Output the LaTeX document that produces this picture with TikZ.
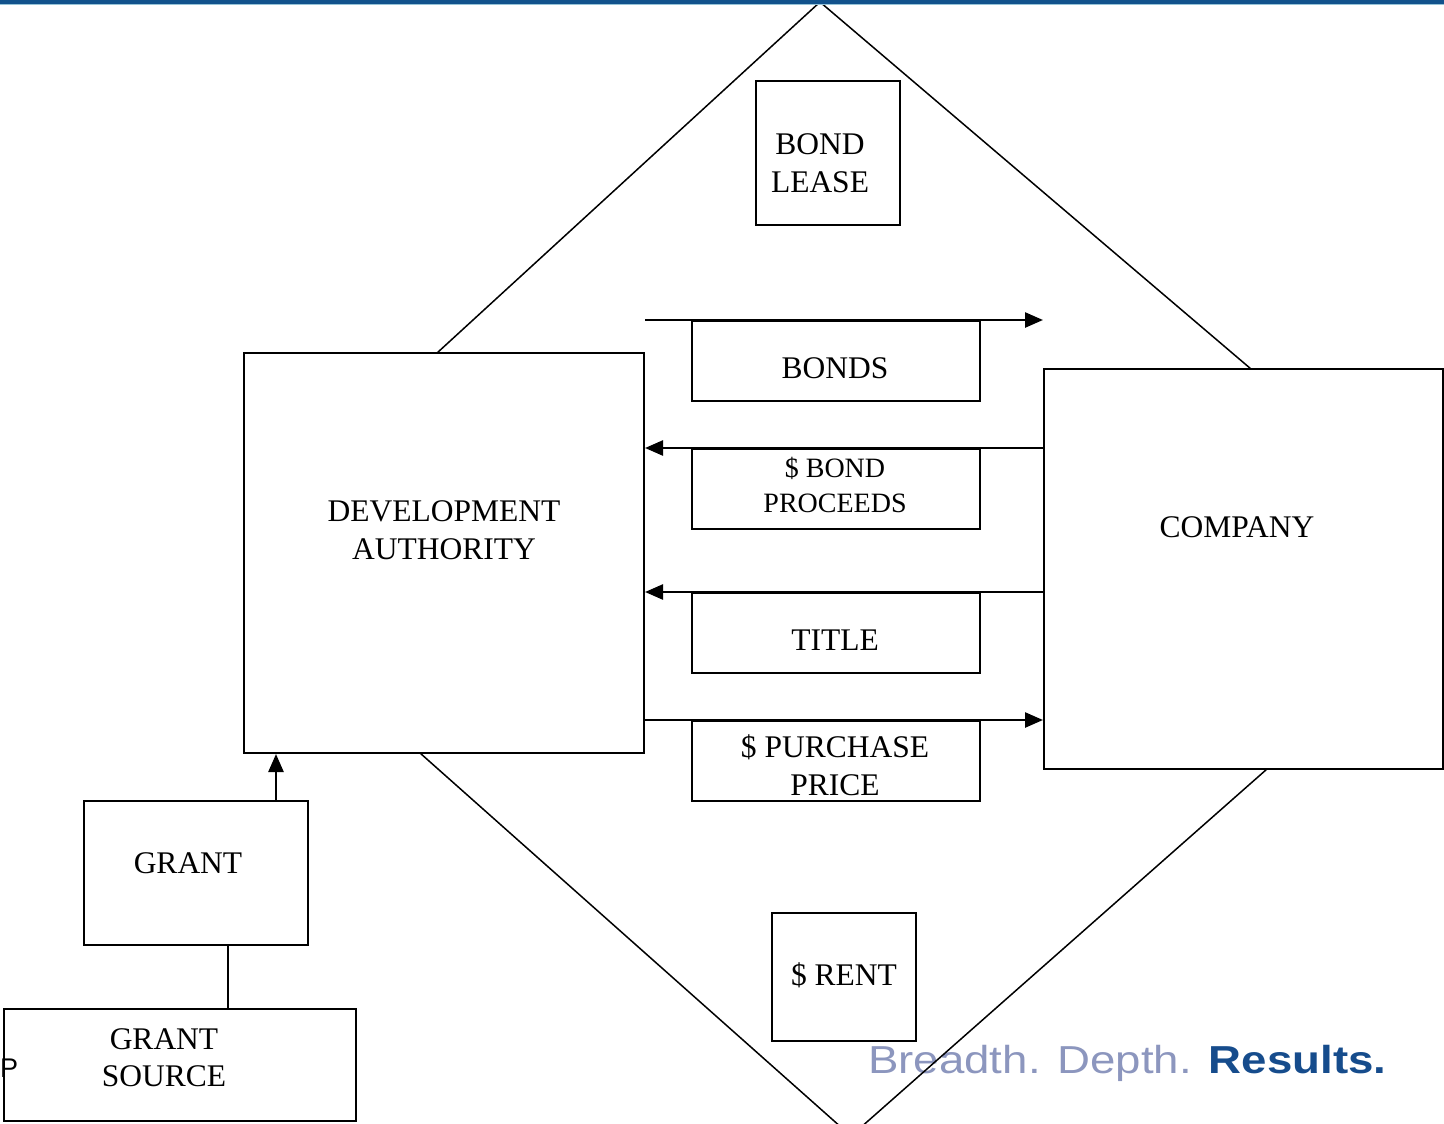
\documentclass[tikz,border=0pt]{standalone}
\usepackage{fontspec}
\setmainfont{Liberation Serif}
\newfontfamily\logofont{Liberation Sans}
\usetikzlibrary{arrows.meta}
\definecolor{barblue}{RGB}{18,82,140}
\definecolor{barlight}{RGB}{150,195,215}
\definecolor{logogrey}{RGB}{140,150,190}
\definecolor{logoblue}{RGB}{22,76,140}
\begin{document}
\begin{tikzpicture}[x=1pt,y=-1pt,
  box/.style={draw, line width=2pt, fill=white, inner sep=0pt},
  lbl/.style={align=center, inner sep=0pt, font=\fontsize{31.5}{38}\selectfont},
  lblsm/.style={align=center, inner sep=0pt, font=\fontsize{28}{35}\selectfont},
  flow/.style={line width=2.5pt, -{Triangle[length=18pt,width=15pt]}},
  diam/.style={line width=1.5pt},
  link/.style={line width=2pt}]
\useasboundingbox (0,0) rectangle (1444,1124);
\clip (0,0) rectangle (1444,1124);
% logo (background)
\node[anchor=base west, inner sep=0pt, xscale=1.17, font=\logofont\fontsize{39}{39}\selectfont] (logo) at (868,1073)
  {\textcolor{logogrey}{Breadth. Depth.} \textcolor{logoblue}{\bfseries Results.}};
% diamond
\draw[diam] (437,353) -- (820,2) -- (1251,369);
\draw[diam] (420,753) -- (851,1136) -- (1267,769);
% boxes
\node[box, minimum width=144pt, minimum height=144pt] (bl) at (828,153) {};
\node[box, minimum width=400pt, minimum height=400pt] (da) at (444,553) {};
\node[box, minimum width=399pt, minimum height=400pt] (co) at (1243.5,569) {};
\node[box, minimum width=288pt, minimum height=80pt] (bonds) at (836,361) {};
\node[box, minimum width=288pt, minimum height=80pt] (proc) at (836,489) {};
\node[box, minimum width=288pt, minimum height=80pt] (title) at (836,633) {};
\node[box, minimum width=288pt, minimum height=80pt] (pur) at (836,761) {};
\node[box, minimum width=224pt, minimum height=144pt] (grant) at (196,873) {};
\node[box, minimum width=352pt, minimum height=112pt] (gs) at (180,1065) {};
\node[box, minimum width=144pt, minimum height=128pt] (rent) at (844,977) {};
% labels
\node[lbl] (blT) at (820,163) {BOND\\LEASE};
\node[lbl] (daT) at (444,530) {DEVELOPMENT\\AUTHORITY};
\node[lbl] (coT) at (1237,527) {COMPANY};
\node[lbl] (bondsT) at (835,368) {BONDS};
\node[lblsm] (procT) at (835,485) {\$ BOND\\PROCEEDS};
\node[lbl] (titleT) at (835,640) {TITLE};
\node[lbl] (purT) at (835,765) {\$ PURCHASE\\PRICE};
\node[lbl] (grantT) at (188,863) {GRANT};
\node[lbl, font=\fontsize{31.5}{37}\selectfont] (gsT) at (164,1058) {GRANT\\SOURCE};
\node[lbl] (rentT) at (844,975) {\$ RENT};
\node[anchor=base west, inner sep=0pt, font=\logofont\fontsize{27}{27}\selectfont] (p) at (0,1077) {P};
% flows
\coordinate (b1) at (da.east |- bonds.north);
\coordinate (b2) at (co.west |- bonds.north);
\draw[flow] (b1) -- (b2);
\draw[flow] (co.west |- proc.north) -- (da.east |- proc.north);
\draw[flow] (co.west |- title.north) -- (da.east |- title.north);
\draw[flow] (da.east |- pur.north) -- (co.west |- pur.north);
\draw[flow] ([xshift=80pt]grant.north) -- ([xshift=80pt]grant.north |- da.south);
\draw[link] ([xshift=32pt]grant.south) -- ([xshift=32pt]grant.south |- gs.north);
% top bar
\fill[barblue] (0,0) rectangle (1444,4);
\draw[barlight, line width=1pt] (0,4.5) -- (1444,4.5);
\end{tikzpicture}
\end{document}
